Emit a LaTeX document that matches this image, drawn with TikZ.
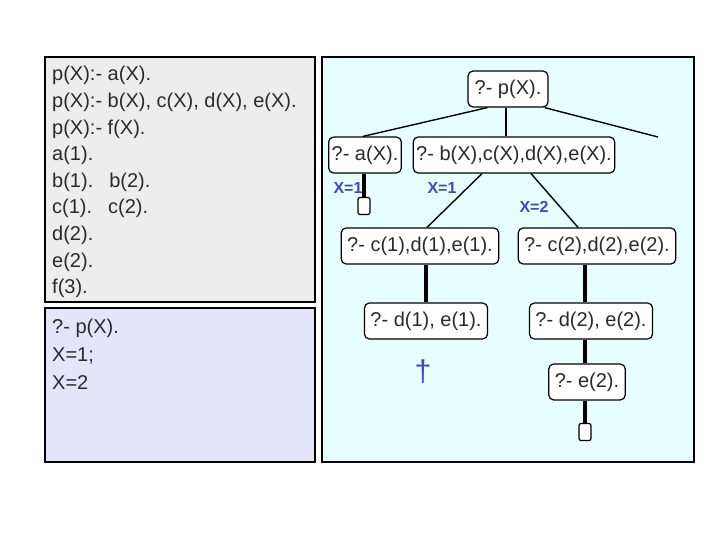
\documentclass[tikz,border=0pt]{standalone}
\usepackage{fontspec}
\setmainfont{Liberation Sans}
\definecolor{progbg}{HTML}{EDEDED}
\definecolor{querybg}{HTML}{E4E4FA}
\definecolor{treebg}{HTML}{E6FEFE}
\definecolor{labblue}{HTML}{4444C8}
\definecolor{txt}{HTML}{2A2A2A}
\tikzset{
  panel/.style={draw=black, line width=1.5pt},
  line/.style={text=txt, font=\fontsize{20}{24}\selectfont, inner sep=0pt},
  goal/.style={draw=black, fill=white, line width=1.2pt, rounded corners=5pt,
    text=txt, font=\fontsize{20}{24}\selectfont, inner xsep=6pt, minimum height=36pt},
  done/.style={draw=black, fill=white, line width=1.2pt, rounded corners=2pt,
    minimum width=12pt, minimum height=17pt, inner sep=0pt},
  subst/.style={text=labblue, font=\bfseries\fontsize{16}{18}\selectfont, inner sep=0pt},
  edge/.style={line width=1.4pt},
  trunk/.style={line width=3.2pt}
}
\begin{document}
\begin{tikzpicture}[x=1pt,y=-1pt]
  \useasboundingbox (0,0) rectangle (720,540);
  % panels
  \filldraw[panel, fill=progbg] (45,57) rectangle (315,302);
  \filldraw[panel, fill=querybg] (45,308) rectangle (315,462);
  \filldraw[panel, fill=treebg] (322,57) rectangle (694,462);
  % program
  \foreach \t [count=\i] in {p(X):- a(X)., {p(X):- b(X), c(X), d(X), e(X).},
      p(X):- f(X)., a(1)., {b(1).\hspace{16pt}b(2).}, {c(1).\hspace{16pt}c(2).},
      d(2)., e(2)., f(3).}
    \node[line, anchor=base west] (l\i) at (52,{81+26.6*(\i-1)}) {\t};
  % query
  \foreach \t [count=\i] in {?- p(X)., X=1;, X=2}
    \node[line, anchor=base west] (q\i) at (52,{333+28*(\i-1)}) {\t};
  % tree
  \node[goal, minimum width=80pt] (root) at (508,89) {?- p(X).};
  \node[goal, inner xsep=3pt] (ax) at (365,155) {?- a(X).};
  \node[goal, inner xsep=3pt] (bx) at (514,155) {?- b(X),c(X),d(X),e(X).};
  \coordinate (fx) at (658,137);
  \node[goal] (c1) at (420,246) {?- c(1),d(1),e(1).};
  \node[goal] (c2) at (597,246) {?- c(2),d(2),e(2).};
  \node[goal] (d1) at (426,321) {?- d(1), e(1).};
  \node[goal] (d2) at (591,321) {?- d(2), e(2).};
  \node[goal] (e2) at (587,382) {?- e(2).};
  \node[done] (ok1) at (364,206) {};
  \node[done] (ok2) at (585,432) {};
  \node[text=labblue, font=\fontsize{30}{30}\selectfont, inner sep=0pt] (fail) at (423,372) {†};
  \draw[edge] ([xshift=20pt]root.south west) -- ([xshift=-2pt]ax.north);
  \draw[edge, line width=2.2pt] ([xshift=-2pt]root.south) -- ([xshift=-8pt]bx.north);
  \draw[edge] ([xshift=-4pt]root.south east) -- (fx);
  \draw[trunk] ([xshift=-1pt]ax.south) -- (ok1);
  \draw[edge] ([xshift=-32pt]bx.south) -- ([xshift=7pt]c1.north);
  \draw[edge] ([xshift=17pt]bx.south) -- ([xshift=-19pt]c2.north);
  \draw[trunk] ([xshift=6pt]c1.south) -- (d1.north);
  \draw[trunk] ([xshift=-12pt]c2.south) -- ([xshift=-6pt]d2.north);
  \draw[trunk] ([xshift=-6pt]d2.south) -- ([xshift=-2pt]e2.north);
  \draw[trunk] ([xshift=-2pt]e2.south) -- (ok2);
  \node[subst] (s1) at (348,188) {X=1};
  \node[subst] (s2) at (442,188) {X=1};
  \node[subst] (s3) at (534,207) {X=2};
\end{tikzpicture}
\end{document}
